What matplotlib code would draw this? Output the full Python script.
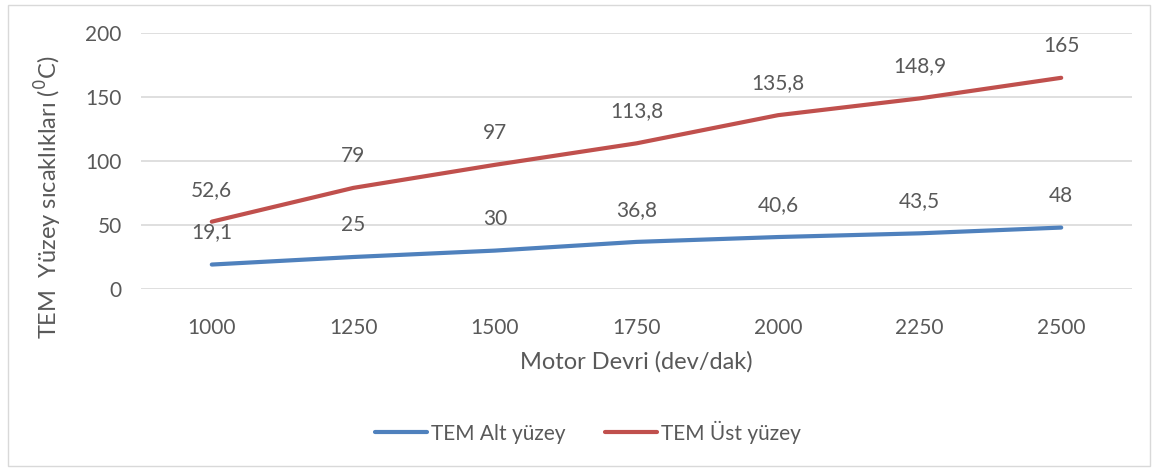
import matplotlib
matplotlib.use('Agg')
import matplotlib.pyplot as plt
from matplotlib.patches import Rectangle

plt.rcParams['font.family'] = ['Lato', 'DejaVu Sans']

rpm = ['1000', '1250', '1500', '1750', '2000', '2250', '2500']
alt = [19.1, 25, 30, 36.8, 40.6, 43.5, 48]
ust = [52.6, 79, 97, 113.8, 135.8, 148.9, 165]
alt_lbl = ['19,1', '25', '30', '36,8', '40,6', '43,5', '48']
ust_lbl = ['52,6', '79', '97', '113,8', '135,8', '148,9', '165']

TXT, GRID = '#595959', '#D9D9D9'
BLUE, RED = '#4F81BD', '#C0504D'

fig = plt.figure(figsize=(11.58, 4.68), dpi=100, facecolor='white')
fig.patches.append(Rectangle((8 / 1158, 1 - 466 / 468), 1142 / 1158, 461 / 468,
                             transform=fig.transFigure, fill=False, ec=GRID, lw=1))
ax = fig.add_axes([141 / 1158, 1 - 289 / 468, 991 / 1158, 256 / 468])
x = range(len(rpm))
ax.plot(x, alt, color=BLUE, lw=3, solid_capstyle='round', label='TEM Alt yüzey')
ax.plot(x, ust, color=RED, lw=3, solid_capstyle='round', label='TEM Üst yüzey')
for i in x:
    ax.annotate(alt_lbl[i], (i, alt[i]), xytext=(0, 32), textcoords='offset pixels',
                ha='center', va='center', fontsize=15, color=TXT)
    ax.annotate(ust_lbl[i], (i, ust[i]), xytext=(0, 32), textcoords='offset pixels',
                ha='center', va='center', fontsize=15, color=TXT)

ax.set_xlim(-0.5, len(rpm) - 0.5)
ax.set_ylim(0, 200)
ax.set_yticks(range(0, 201, 50))
ax.set_xticks(list(x))
ax.set_xticklabels(rpm)
ax.grid(axis='y', color=GRID, lw=1.2)
ax.set_axisbelow(True)
for s in ax.spines.values():
    s.set_visible(False)
ax.tick_params(length=0, labelsize=15, colors=TXT)
ax.tick_params(axis='x', pad=21)
ax.tick_params(axis='y', pad=14)
ax.set_xlabel('Motor Devri (dev/dak)', fontsize=17, color=TXT, labelpad=9)

fig.text(48 / 1158, 1 - 197 / 468, 'TEM  Yüzey sıcaklıkları ($^{0}$C)', rotation=90,
         ha='center', va='center', fontsize=17, color=TXT)

fig.legend(loc='center', bbox_to_anchor=(588 / 1158, 1 - 432 / 468), ncol=2, frameon=False,
           fontsize=15, labelcolor=TXT, handlelength=2.5, handletextpad=0.2, columnspacing=1.9)

fig.savefig('out.png', dpi=100, facecolor='white')
